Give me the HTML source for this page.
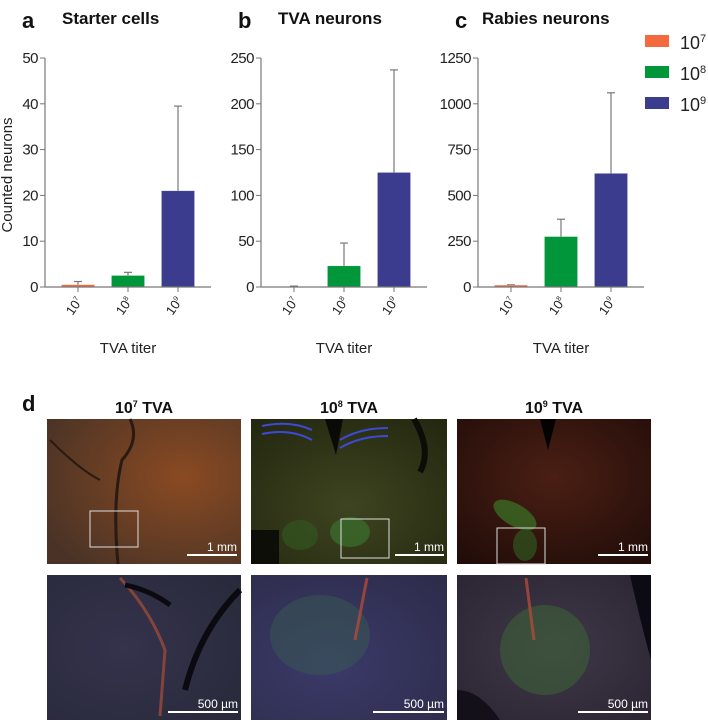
<!DOCTYPE html>
<html><head><meta charset="utf-8"><style>
html,body{margin:0;padding:0;background:#fff;width:708px;height:722px;overflow:hidden}
svg{display:block}
text{font-family:"Liberation Sans",sans-serif}
</style></head><body>
<svg id="fig" width="708" height="722" viewBox="0 0 708 722">
<defs>
<radialGradient id="g1" cx="0.7" cy="0.4" r="0.8"><stop offset="0" stop-color="#8a4a22"/><stop offset="1" stop-color="#4a3326"/></radialGradient>
<radialGradient id="g2" cx="0.5" cy="0.6" r="0.8"><stop offset="0" stop-color="#3e4420"/><stop offset="1" stop-color="#22260f"/></radialGradient>
<radialGradient id="g3" cx="0.5" cy="0.4" r="0.8"><stop offset="0" stop-color="#4a1f14"/><stop offset="1" stop-color="#1e0b08"/></radialGradient>
<radialGradient id="g4" cx="0.4" cy="0.5" r="0.8"><stop offset="0" stop-color="#35324c"/><stop offset="1" stop-color="#272a3a"/></radialGradient>
<radialGradient id="g5" cx="0.4" cy="0.6" r="0.8"><stop offset="0" stop-color="#3b3a6a"/><stop offset="1" stop-color="#2d2c4a"/></radialGradient>
<radialGradient id="g6" cx="0.5" cy="0.5" r="0.8"><stop offset="0" stop-color="#3d3848"/><stop offset="1" stop-color="#2a2230"/></radialGradient>
</defs>
<g id="charts"></g>
<g id="legend">
<rect x="645" y="35" width="24" height="12" fill="#f26a3e"/>
<text x="680" y="49" font-size="18" fill="#222">10<tspan font-size="11" dy="-7">7</tspan></text>
<rect x="645" y="66" width="24" height="12" fill="#009639"/>
<text x="680" y="80" font-size="18" fill="#222">10<tspan font-size="11" dy="-7">8</tspan></text>
<rect x="645" y="97" width="24" height="12" fill="#3c3c8f"/>
<text x="680" y="111" font-size="18" fill="#222">10<tspan font-size="11" dy="-7">9</tspan></text>
</g>
<text x="7" y="175" font-size="15" fill="#222" text-anchor="middle" transform="rotate(-90 7 175) translate(0 5)">Counted neurons</text>

<text x="22" y="411" font-size="22" font-weight="bold" fill="#111">d</text>
<text x="144" y="413" font-size="16" font-weight="bold" fill="#111" text-anchor="middle">10<tspan font-size="9" dy="-6">7</tspan><tspan dy="6"> TVA</tspan></text>
<text x="349" y="413" font-size="16" font-weight="bold" fill="#111" text-anchor="middle">10<tspan font-size="9" dy="-6">8</tspan><tspan dy="6"> TVA</tspan></text>
<text x="554" y="413" font-size="16" font-weight="bold" fill="#111" text-anchor="middle">10<tspan font-size="9" dy="-6">9</tspan><tspan dy="6"> TVA</tspan></text>

<g>
<rect x="47" y="419" width="194" height="145" fill="url(#g1)"/>
<path d="M130 419 Q140 440 122 460 Q112 500 118 564" stroke="#2a1a12" stroke-width="3" fill="none"/>
<path d="M50 440 Q80 470 100 480" stroke="#2a1a12" stroke-width="2" fill="none"/>
<rect x="90" y="511" width="48" height="36" fill="none" stroke="#ddd" stroke-width="1"/>
<line x1="187" y1="555" x2="237" y2="555" stroke="#fff" stroke-width="2"/>
<text x="237" y="551" font-size="12" fill="#fff" text-anchor="end">1 mm</text>
</g>
<g>
<rect x="251" y="419" width="196" height="145" fill="url(#g2)"/>
<path d="M262 426 Q290 420 312 430 M262 434 Q290 428 312 440 M340 440 Q360 428 388 428 M340 448 Q360 436 388 436" stroke="#3d4ad8" stroke-width="2" fill="none"/>
<path d="M325 419 L343 419 L336 455Z" fill="#0a0a06"/>
<path d="M414 419 Q432 450 420 472" stroke="#0c0c08" stroke-width="6" fill="none"/>
<rect x="251" y="530" width="28" height="34" fill="#0e0e08"/>
<ellipse cx="350" cy="532" rx="20" ry="15" fill="#3b6a2a" opacity="0.8"/>
<ellipse cx="300" cy="535" rx="18" ry="15" fill="#335a22" opacity="0.6"/>
<rect x="341" y="519" width="48" height="39" fill="none" stroke="#ddd" stroke-width="1"/>
<line x1="395" y1="555" x2="444" y2="555" stroke="#fff" stroke-width="2"/>
<text x="444" y="551" font-size="12" fill="#fff" text-anchor="end">1 mm</text>
</g>
<g>
<rect x="457" y="419" width="194" height="145" fill="url(#g3)"/>
<path d="M540 419 L548 450 L556 419Z" fill="#050202"/>
<ellipse cx="515" cy="515" rx="24" ry="11" transform="rotate(30 515 515)" fill="#3a6a22" opacity="0.8"/>
<ellipse cx="525" cy="545" rx="12" ry="16" fill="#2f5520" opacity="0.7"/>
<rect x="497" y="528" width="48" height="36" fill="none" stroke="#ddd" stroke-width="1"/>
<line x1="598" y1="555" x2="648" y2="555" stroke="#fff" stroke-width="2"/>
<text x="648" y="551" font-size="12" fill="#fff" text-anchor="end">1 mm</text>
</g>
<g>
<rect x="47" y="575" width="194" height="145" fill="url(#g4)"/>
<path d="M120 578 Q150 610 165 650 L160 716" stroke="#9a4a3a" stroke-width="3" fill="none" opacity="0.8"/>
<path d="M240 590 Q200 630 185 690" stroke="#0a0a10" stroke-width="6" fill="none"/>
<path d="M125 585 Q150 590 170 605" stroke="#0a0a10" stroke-width="5" fill="none"/>
<line x1="168" y1="712" x2="238" y2="712" stroke="#fff" stroke-width="2"/>
<text x="238" y="708" font-size="12" fill="#fff" text-anchor="end">500 µm</text>
</g>
<g>
<rect x="251" y="575" width="196" height="145" fill="url(#g5)"/>
<ellipse cx="320" cy="635" rx="50" ry="40" fill="#3a6a4a" opacity="0.35"/>
<path d="M367 578 L355 640" stroke="#b04a3a" stroke-width="3" fill="none" opacity="0.8"/>
<line x1="373" y1="712" x2="444" y2="712" stroke="#fff" stroke-width="2"/>
<text x="444" y="708" font-size="12" fill="#fff" text-anchor="end">500 µm</text>
</g>
<g>
<rect x="457" y="575" width="194" height="145" fill="url(#g6)"/>
<ellipse cx="545" cy="650" rx="45" ry="45" fill="#3e6a36" opacity="0.5"/>
<path d="M526 578 L534 640" stroke="#b04a3a" stroke-width="3" fill="none" opacity="0.8"/>
<path d="M630 575 L651 575 L651 660 Q640 620 630 575Z" fill="#0c0a12"/>
<path d="M457 690 Q480 690 500 720 L457 720Z" fill="#14101a"/>
<line x1="578" y1="712" x2="648" y2="712" stroke="#fff" stroke-width="2"/>
<text x="648" y="708" font-size="12" fill="#fff" text-anchor="end">500 µm</text>
</g>
</svg>
<script>
const panelTitles = ["Starter cells", "TVA neurons", "Rabies neurons"];
const panelLetters = ["a", "b", "c"];
const categories = ["7", "8", "9"];
const starterMeans = [0.5, 2.5, 21];
const starterErr = [1.2, 3.2, 39.5];
const tvaMeans = [0, 23, 125];
const tvaErr = [1, 48, 237];
const rabiesMeans = [10, 275, 620];
const rabiesErr = [12, 370, 1060];
const starterTicks = [0, 10, 20, 30, 40, 50];
const tvaTicks = [0, 50, 100, 150, 200, 250];
const rabiesTicks = [0, 250, 500, 750, 1000, 1250];
const colors = ["#f26a3e", "#009639", "#3c3c8f"];

const NS = "http://www.w3.org/2000/svg";
const root = document.getElementById("charts");
function mk(tag, attrs, parent) {
  const e = document.createElementNS(NS, tag);
  for (const k in attrs) e.setAttribute(k, attrs[k]);
  parent.appendChild(e);
  return e;
}
const panels = [
  {x0: 45, means: starterMeans, errs: starterErr, ticks: starterTicks, lx: 22, tx: 62},
  {x0: 261, means: tvaMeans, errs: tvaErr, ticks: tvaTicks, lx: 238, tx: 278},
  {x0: 478, means: rabiesMeans, errs: rabiesErr, ticks: rabiesTicks, lx: 455, tx: 482}
];
const yTop = 58, yBot = 287, axW = 166;
panels.forEach((p, pi) => {
  const g = mk("g", {}, root);
  
  
  const maxV = p.ticks[p.ticks.length - 1];
  const y = v => yBot - (v / maxV) * (yBot - yTop);
  const xc = i => p.x0 + 33 + i * 50;
  const lt = mk("text", {x: p.lx, y: 28, "font-size": 22, "font-weight": "bold", fill: "#111"}, g);
  lt.textContent = panelLetters[pi];
  
  
  const tt = mk("text", {x: p.tx, y: 24, "font-size": 17, "font-weight": "bold", fill: "#111"}, g);
  tt.textContent = panelTitles[pi];
  
  
  p.means.forEach((m, i) => {
    const top = y(p.errs[i]);
    const bt = y(m);
    const el = mk("line", {x1: xc(i), x2: xc(i), y1: top, y2: bt, stroke: "#777", "stroke-width": 1.2}, g);
    
    
    const cap = mk("line", {x1: xc(i) - 4, x2: xc(i) + 4, y1: top, y2: top, stroke: "#777", "stroke-width": 1.2}, g);
    
    
    const h = Math.max(bt < yBot ? yBot - bt : 0, 0);
    const b = mk("rect", {x: xc(i) - 16.5, y: bt, width: 33, height: h, fill: colors[i], stroke: "rgba(255,255,255,0.3)", "stroke-width": 0.5}, g);
    
    
    const xt = mk("line", {x1: xc(i), x2: xc(i), y1: yBot, y2: yBot + 5, stroke: "#777"}, g);
    
    
    const xl = mk("text", {x: 0, y: 0, "font-size": 13, fill: "#222", "text-anchor": "end", transform: `translate(${xc(i) + 5},${yBot + 14}) rotate(-55)`}, g);
    xl.innerHTML = '10<tspan font-size="7" dy="-5">' + categories[i] + '</tspan>';
    
    
  });
  const ax = mk("path", {d: `M${p.x0} ${yTop} L${p.x0} ${yBot} L${p.x0 + axW} ${yBot}`, stroke: "#777", "stroke-width": 1.2, fill: "none"}, g);
  
  
  p.ticks.forEach(t => {
    const tk = mk("line", {x1: p.x0 - 5, x2: p.x0, y1: y(t), y2: y(t), stroke: "#777"}, g);
    
    
    const tl = mk("text", {x: p.x0 - 7, y: y(t) + 5, "font-size": 15, fill: "#222", "text-anchor": "end", "letter-spacing": "-0.5"}, g);
    tl.textContent = t;
    
    
  });
  const xt = mk("text", {x: p.x0 + 83, y: 353, "font-size": 15, fill: "#222", "text-anchor": "middle"}, g);
  xt.textContent = "TVA titer";
  
  
});
</script>
</body></html>
